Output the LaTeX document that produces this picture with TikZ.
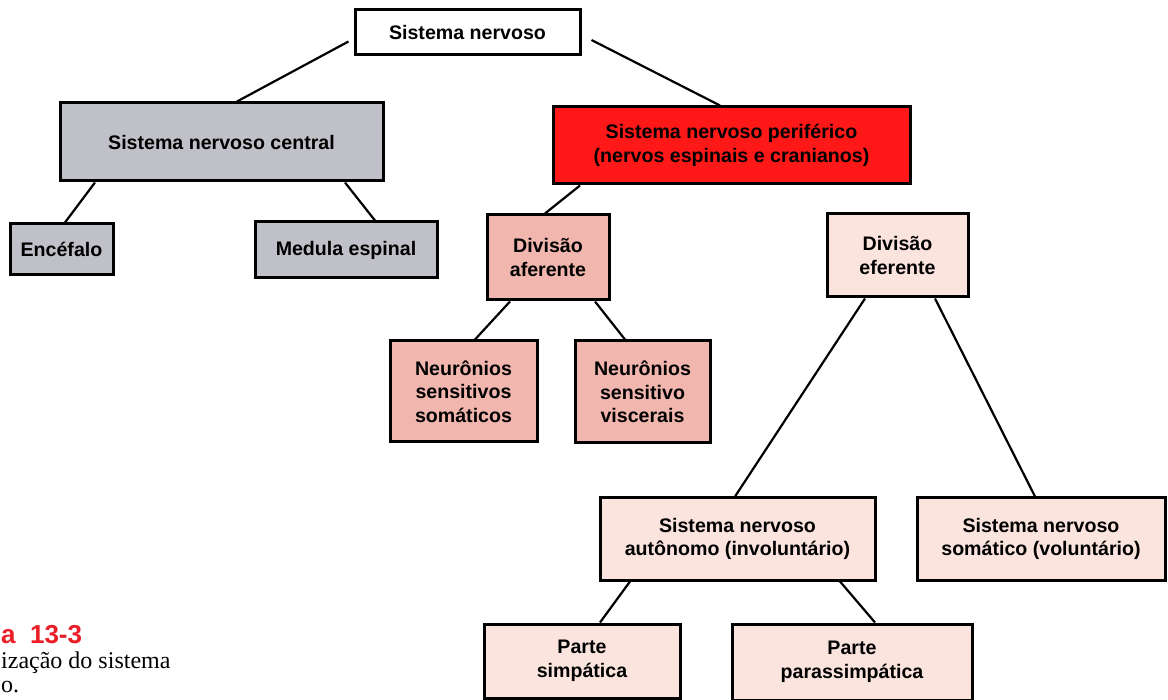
\documentclass[tikz,border=0pt]{standalone}
\usepackage{fontspec}
\setmainfont{Liberation Sans}
\newfontfamily\capserif{Liberation Serif}
\definecolor{cgray}{RGB}{192,192,200}
\definecolor{cred}{RGB}{255,24,24}
\definecolor{cpink}{RGB}{241,182,174}
\definecolor{clight}{RGB}{251,228,222}
\definecolor{capred}{RGB}{235,30,40}
\begin{document}
\begin{tikzpicture}[x=1pt,y=-1pt,
  box/.style={draw=black,line width=3pt,inner sep=0pt,align=center,
    font=\fontsize{19.6}{23.5}\selectfont\bfseries},
  link/.style={line width=2.2pt}]
\useasboundingbox (0,0) rectangle (1168,700);
\fill[white] (0,0) rectangle (1168,700);
\node[box,fill=white,minimum width=225,minimum height=45] (top) at (467.5,32.5) {Sistema nervoso};
\node[box,fill=cgray,minimum width=323,minimum height=78] (snc) at (221.5,142) {Sistema nervoso central};
\node[box,fill=cred,minimum width=357,minimum height=77] (snp) at (731.5,145.5) {Sistema nervoso periférico\\(nervos espinais e cranianos)};
\node[box,fill=cgray,minimum width=103,minimum height=51] (enc) at (61.5,249.5) {Encéfalo};
\node[box,fill=cgray,minimum width=182,minimum height=56] (med) at (346,250) {Medula espinal};
\node[box,fill=cpink,minimum width=122,minimum height=85] (afe) at (548,257.5) {Divisão\\aferente};
\node[box,fill=clight,minimum width=141,minimum height=83] (efe) at (897.5,255.5) {Divisão\\eferente};
\node[box,fill=cpink,minimum width=147,minimum height=101] (som) at (463.5,391.5) {Neurônios\\sensitivos\\somáticos};
\node[box,fill=cpink,minimum width=135,minimum height=102] (vis) at (642.5,392) {Neurônios\\sensitivo\\viscerais};
\node[box,fill=clight,minimum width=275,minimum height=82] (aut) at (737.5,539) {Sistema nervoso\\autônomo (involuntário)};
\node[box,fill=clight,minimum width=248,minimum height=82] (vol) at (1041,539) {Sistema nervoso\\somático (voluntário)};
\node[box,fill=clight,minimum width=196,minimum height=74] (sim) at (582,661) {Parte\\simpática};
\node[box,fill=clight,minimum width=240,minimum height=76] (par) at (852,662) {Parte\\parassimpática};
% connectors
\draw[link] ([xshift=-5pt,yshift=-9pt]top.west) -- ([xshift=15.5pt]snc.north);
\draw[link] ([xshift=10pt,yshift=-7.5pt]top.east) -- ([xshift=-11.5pt]snp.north);
\draw[link] ([xshift=-126.5pt]snc.south) -- ([xshift=3.5pt]enc.north);
\draw[link] ([xshift=123.5pt]snc.south) -- ([xshift=29pt]med.north);
\draw[link] ([xshift=-151.5pt]snp.south) -- ([xshift=-3pt]afe.north);
\draw[link] ([xshift=-38pt]afe.south) -- ([xshift=11.5pt]som.north);
\draw[link] ([xshift=47pt]afe.south) -- ([xshift=-17.5pt]vis.north);
\draw[link] ([xshift=-32.5pt]efe.south) -- ([xshift=-2.5pt]aut.north);
\draw[link] ([xshift=37.5pt]efe.south) -- ([xshift=-6pt]vol.north);
\draw[link] ([xshift=-107.5pt]aut.south) -- ([xshift=18pt]sim.north);
\draw[link] ([xshift=102.5pt]aut.south) -- ([xshift=23pt]par.north);
% caption
\node[anchor=base west,inner sep=0pt,text=capred,font=\fontsize{26}{30}\selectfont\bfseries] (cap1) at (1,643) {a\ \ 13-3};
\node[anchor=base west,inner sep=0pt,font=\capserif\fontsize{24}{28}\selectfont] (cap2) at (1,668) {ização do sistema};
\node[anchor=base west,inner sep=0pt,font=\capserif\fontsize{24}{28}\selectfont] (cap3) at (1,692) {o.};
\end{tikzpicture}
\end{document}
